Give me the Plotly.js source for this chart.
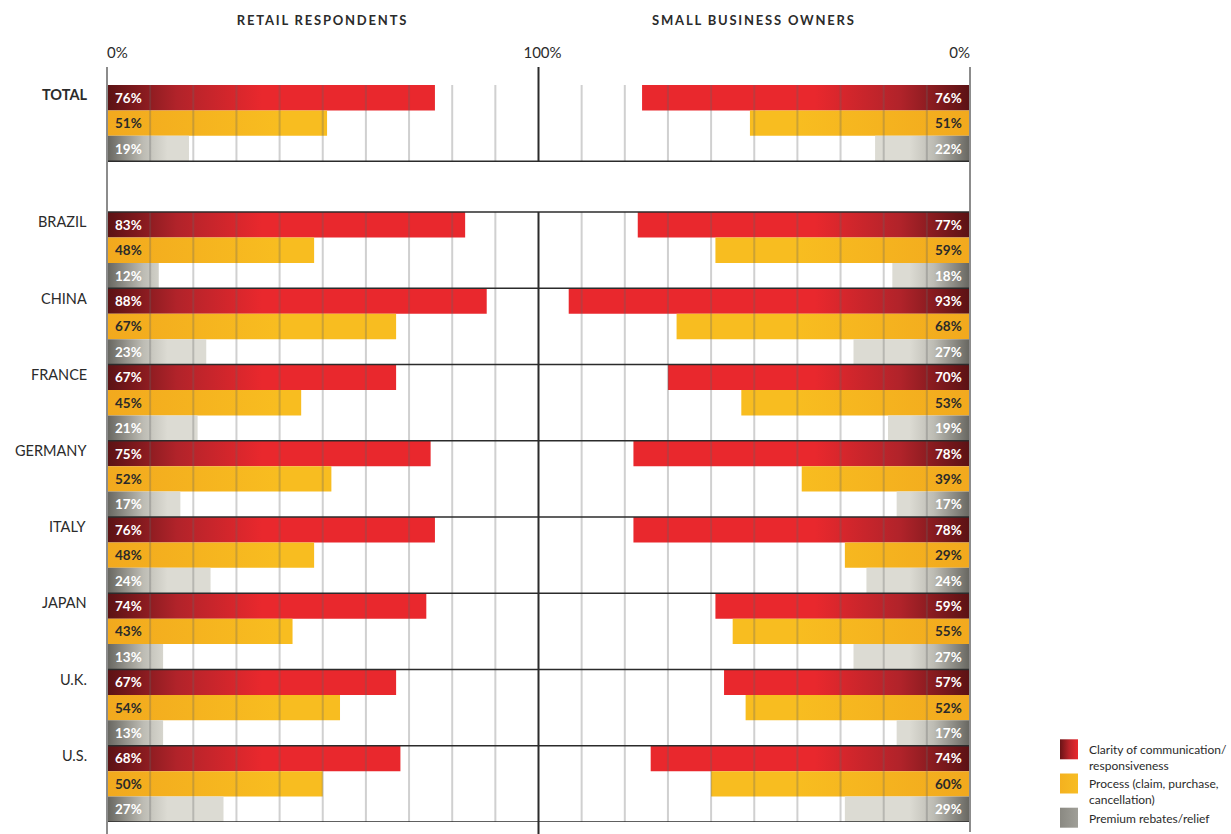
<!DOCTYPE html>
<html>
<head>
<meta charset="utf-8">
<script src="https://cdn.plot.ly/plotly-3.0.1.min.js"></script>
<style>
  html, body { margin: 0; padding: 0; background: #fff; }
  #chart { width: 1231px; height: 834px; }
</style>
</head>
<body>
<div id="chart"></div>
<script>
// ---------- data ----------
const categories = ['TOTAL', 'BRAZIL', 'CHINA', 'FRANCE', 'GERMANY', 'ITALY', 'JAPAN', 'U.K.', 'U.S.'];
const retailClarity = [76, 83, 88, 67, 75, 76, 74, 67, 68];
const retailProcess = [51, 48, 67, 45, 52, 48, 43, 54, 50];
const retailPremium = [19, 12, 23, 21, 17, 24, 13, 13, 27];
const sbClarity = [76, 77, 93, 70, 78, 78, 59, 57, 74];
const sbProcess = [51, 59, 68, 53, 39, 29, 55, 52, 60];
const sbPremium = [22, 18, 27, 19, 17, 24, 27, 17, 29];
const seriesNames = ['Clarity of communication/<br>responsiveness', 'Process (claim, purchase,<br>cancellation)', 'Premium rebates/relief'];
const panelTitles = ['RETAIL RESPONDENTS', 'SMALL BUSINESS OWNERS'];
const gridVals = [10, 20, 30, 40, 50, 60, 70, 80, 90];

// ---------- layout helpers ----------
const NROWS = 29;
const groupStart = categories.map((c, i) => (i === 0 ? 0 : 5 + 3 * (i - 1)));
const baseColors = ['#e8282c', '#f6b51f', '#9a9991'];
const labelColors = ['#ffffff', '#2a2a2a', '#ffffff'];
const FONT = 'Lato, "Open Sans", sans-serif';

const panels = [
  { axis: 'x', series: [retailClarity, retailProcess, retailPremium] },
  { axis: 'x2', series: [sbClarity, sbProcess, sbPremium] }
];

const data = [];
const annotations = [];
panels.forEach((p, pi) => {
  p.series.forEach((vals, si) => {
    data.push({
      type: 'bar',
      orientation: 'h',
      name: seriesNames[si],
      x: vals,
      y: groupStart.map(r => r + si + 0.5),
      width: 1,
      xaxis: p.axis,
      yaxis: 'y',
      marker: { color: baseColors[si], line: { width: 0 } },
      showlegend: pi === 0,
      hoverinfo: 'skip'
    });
    vals.forEach((v, gi) => {
      annotations.push({
        xref: p.axis, yref: 'y',
        x: 0, y: groupStart[gi] + si + 0.5,
        text: '<b>' + v + '%</b>',
        showarrow: false,
        xanchor: pi === 0 ? 'left' : 'right',
        xshift: pi === 0 ? 6 : -6,
        yanchor: 'middle',
        font: { family: FONT, size: 13.5, color: labelColors[si] }
      });
    });
  });
});
// empty helper trace so the centre "100%" axis is drawn
data.push({ type: 'scatter', x: [], y: [], xaxis: 'x3', yaxis: 'y', showlegend: false, hoverinfo: 'skip' });

// country labels
categories.forEach((c, gi) => {
  annotations.push({
    xref: 'paper', yref: 'y',
    x: 0, y: groupStart[gi] + 0.5,
    xanchor: 'right', xshift: -18, yanchor: 'middle', yshift: 3,
    text: gi === 0 ? '<b>' + c + '</b>' : c,
    showarrow: false,
    font: { family: FONT, size: 14.5, color: '#2b2b2b' }
  });
});

// panel titles
panelTitles.forEach((t, i) => {
  annotations.push({
    xref: 'paper', yref: 'paper',
    x: i === 0 ? 0.25 : 0.75, y: (822 - 20) / 737,
    xanchor: 'center', yanchor: 'middle',
    text: '<b>' + t + '</b>',
    showarrow: false,
    font: { family: FONT, size: 13, color: '#2b2b2b' }
  });
});

// ---------- shapes: grid, separators, axis lines ----------
const shapes = [];
const rowToPaper = r => 1 - r / NROWS;
['x', 'x2'].forEach(ax => {
  gridVals.forEach(v => {
    [[0, 3], [5, NROWS]].forEach(seg => {
      shapes.push({
        type: 'line', layer: 'above', xref: ax, yref: 'y',
        x0: v, x1: v, y0: seg[0], y1: seg[1],
        line: { color: 'rgba(100,100,100,0.3)', width: 2 }
      });
    });
  });
});
const sepRows = [3].concat(groupStart.slice(1), [NROWS]);
sepRows.forEach(r => {
  shapes.push({
    type: 'line', layer: 'above', xref: 'paper', yref: 'y',
    x0: 0, x1: 1, y0: r, y1: r,
    line: { color: '#2b2b2b', width: 1.5 }
  });
});
const topP = (822 - 67) / 737;
const botP = (822 - 834) / 737;
shapes.push({ type: 'line', layer: 'above', xref: 'paper', yref: 'paper', x0: 0, x1: 0, y0: botP, y1: topP, line: { color: '#8c8c8c', width: 2 } });
shapes.push({ type: 'line', layer: 'above', xref: 'paper', yref: 'paper', x0: 1, x1: 1, y0: (822 - 832) / 737, y1: topP, line: { color: '#8c8c8c', width: 2 } });
shapes.push({ type: 'line', layer: 'above', xref: 'paper', yref: 'paper', x0: 0.5, x1: 0.5, y0: rowToPaper(3), y1: topP, line: { color: '#2b2b2b', width: 2 } });
shapes.push({ type: 'line', layer: 'above', xref: 'paper', yref: 'paper', x0: 0.5, x1: 0.5, y0: botP, y1: rowToPaper(5), line: { color: '#2b2b2b', width: 2 } });

const axisCommon = {
  side: 'top', showgrid: false, zeroline: false, showline: false,
  ticks: '', ticklabelstandoff: 23, fixedrange: true,
  tickfont: { family: FONT, size: 15, color: '#2b2b2b' }
};

const layout = {
  width: 1231, height: 834,
  margin: { l: 107, r: 261, t: 85, b: 12, autoexpand: false },
  paper_bgcolor: '#ffffff', plot_bgcolor: 'rgba(0,0,0,0)',
  barmode: 'overlay',
  font: { family: FONT, color: '#2b2b2b' },
  xaxis: Object.assign({}, axisCommon, { domain: [0, 0.5], range: [0, 100], tickvals: [0], ticktext: ['0%'], ticklabelposition: 'outside right' }),
  xaxis2: Object.assign({}, axisCommon, { domain: [0.5, 1], range: [100, 0], anchor: 'y', tickvals: [0], ticktext: ['0%'], ticklabelposition: 'outside left' }),
  xaxis3: Object.assign({}, axisCommon, { range: [0, 100], anchor: 'y', overlaying: 'x', tickvals: [100], ticktext: ['100%'], ticklabelshift: 4 }),
  yaxis: { range: [NROWS, 0], showgrid: false, zeroline: false, showticklabels: false, ticks: '', fixedrange: true },
  showlegend: true,
  legend: {
    x: (1049 - 107) / 863, y: (822 - 735) / 737, xanchor: 'left', yanchor: 'top',
    font: { family: FONT, size: 12, color: '#2b2b2b' },
    tracegroupgap: 0, bgcolor: 'rgba(0,0,0,0)', valign: 'top'
  },
  annotations: annotations,
  shapes: shapes
};

Plotly.newPlot('chart', data, layout, { staticPlot: true, displayModeBar: false }).then(gd => {
  const svgNS = 'http://www.w3.org/2000/svg';
  const defs = document.querySelector('.main-svg defs');
  function makeGrad(id, x1, x2, stops, units) {
    const g = document.createElementNS(svgNS, 'linearGradient');
    g.setAttribute('id', id);
    g.setAttribute('gradientUnits', units);
    g.setAttribute('x1', x1); g.setAttribute('x2', x2);
    g.setAttribute('y1', 0); g.setAttribute('y2', 0);
    stops.forEach(s => {
      const st = document.createElementNS(svgNS, 'stop');
      st.setAttribute('offset', s[0]);
      st.setAttribute('stop-color', s[1]);
      g.appendChild(st);
    });
    defs.appendChild(g);
  }
  const redStops = [[0, '#5a1214'], [0.45, '#b1232a'], [1, '#e9282d']];
  const yelStops = [[0, '#f2a91e'], [1, '#f8bd20']];
  const grayStops = [[0, '#66655f'], [0.6, '#bdbcb4'], [1, '#dcdbd3']];
  const specs = [
    { sp: 'xy', ax: gd._fullLayout.xaxis },
    { sp: 'x2y', ax: gd._fullLayout.xaxis2 }
  ];
  specs.forEach((s, i) => {
    const a = s.ax;
    makeGrad('gR' + i, a.l2p(0), a.l2p(36), redStops, 'userSpaceOnUse');
    makeGrad('gY' + i, a.l2p(0), a.l2p(40), yelStops, 'userSpaceOnUse');
    makeGrad('gG' + i, a.l2p(0), a.l2p(14), grayStops, 'userSpaceOnUse');
    const traces = document.querySelectorAll('.subplot.' + s.sp + ' .barlayer .trace');
    const ids = ['gR' + i, 'gY' + i, 'gG' + i];
    traces.forEach((t, ti) => {
      t.querySelectorAll('path').forEach(p => { p.style.fill = 'url(#' + ids[ti] + ')'; });
    });
  });
  makeGrad('lgR', 0, 1, [[0, '#6a1416'], [0.5, '#b82329'], [1, '#ea292d']], 'objectBoundingBox');
  makeGrad('lgY', 0, 1, [[0, '#f4b11f'], [1, '#f7bd24']], 'objectBoundingBox');
  makeGrad('lgG', 0, 1, [[0, '#8a8982'], [1, '#a09f98']], 'objectBoundingBox');
  const lids = ['lgR', 'lgY', 'lgG'];
  document.querySelectorAll('.legend .traces').forEach((t, i) => {
    t.querySelectorAll('.legendpoints path').forEach(p => {
      p.setAttribute('d', 'M9,10H-9V-10H9Z');
      p.style.fill = 'url(#' + lids[i] + ')';
      p.style.stroke = 'none';
    });
  });
  document.querySelectorAll('.annotation-text').forEach(el => {
    const txt = el.textContent;
    if (panelTitles.indexOf(txt) >= 0) el.style.letterSpacing = '1.8px';
  });
});
</script>
</body>
</html>
